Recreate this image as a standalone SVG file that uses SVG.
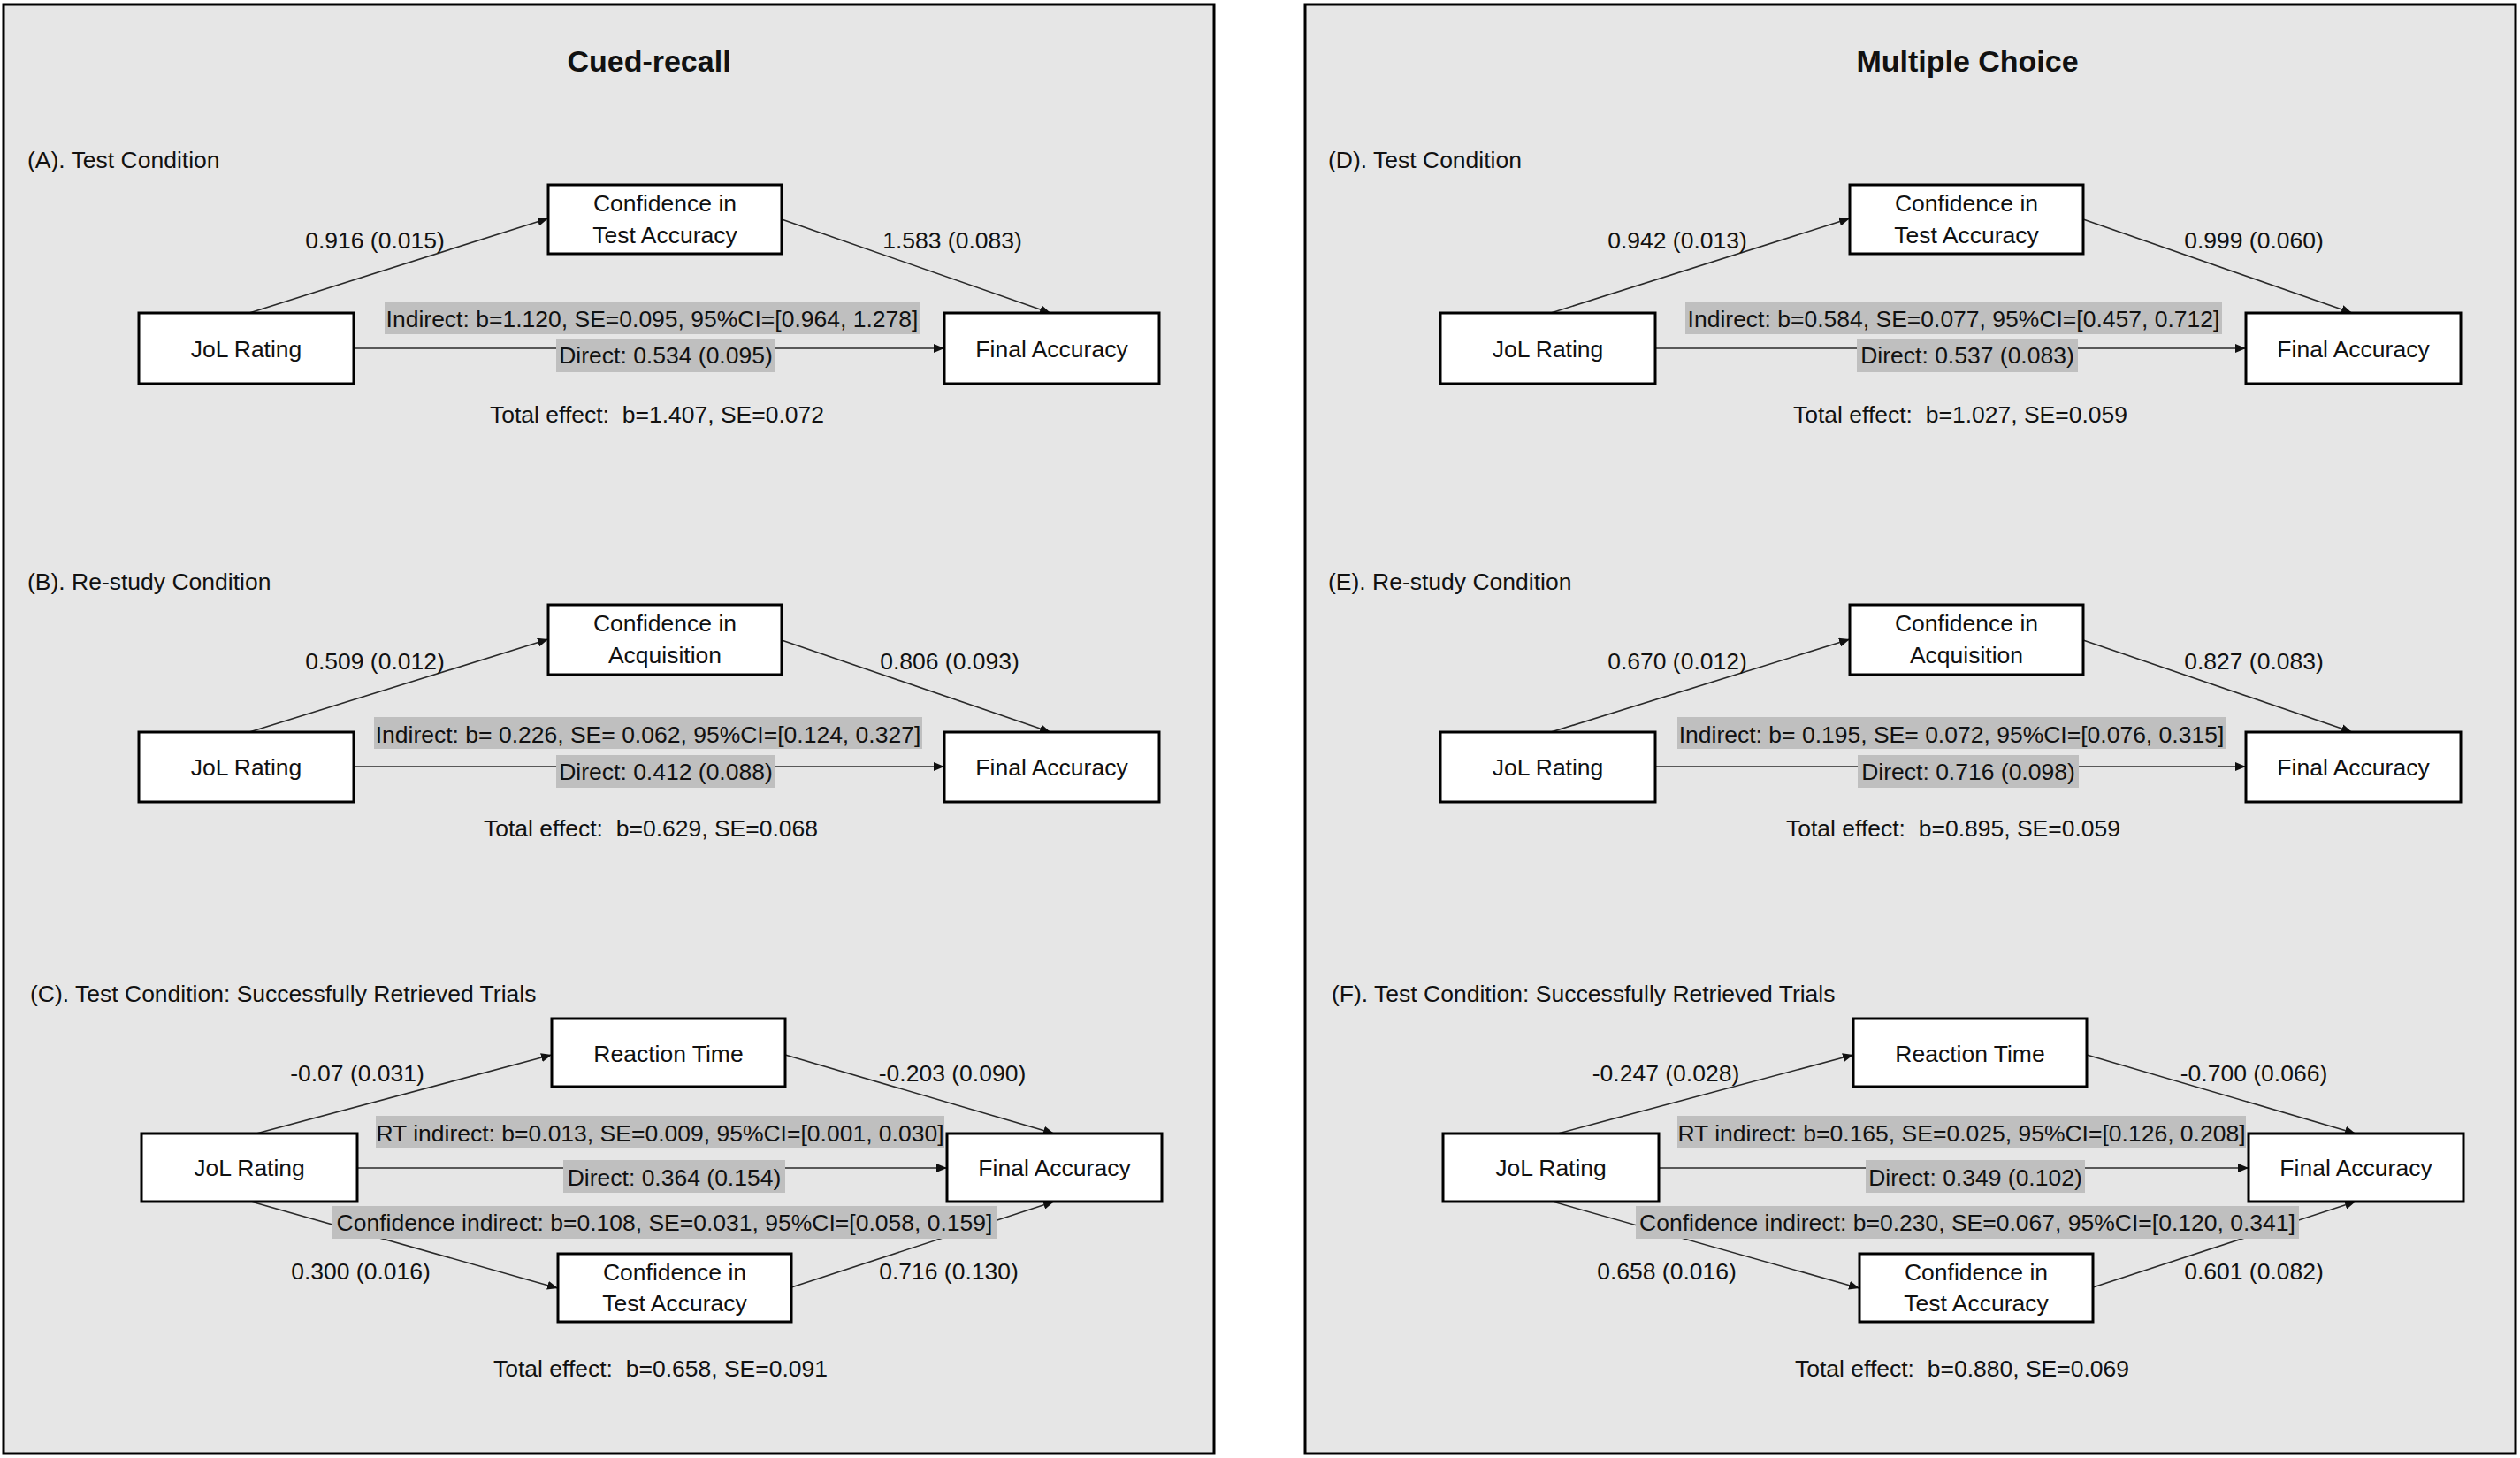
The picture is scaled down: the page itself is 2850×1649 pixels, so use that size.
<svg xmlns="http://www.w3.org/2000/svg" width="2850" height="1649" viewBox="0 0 2850 1649">
<style>
text{font-family:"Liberation Sans",Arial,sans-serif;font-size:26.5px;fill:#111;text-anchor:middle}
.title{font-size:34px;font-weight:bold}
.sec{text-anchor:start}
.panel{fill:#e6e6e6;stroke:#000;stroke-width:3}
.node rect{fill:#fff;stroke:#000;stroke-width:3}
.hl{fill:#bfbfbf}
.edge{stroke:#2a2a2a;stroke-width:1.6;fill:none;marker-end:url(#ah)}
</style>
<defs>
<marker id="ah" markerUnits="userSpaceOnUse" markerWidth="12" markerHeight="10" refX="12" refY="5" orient="auto">
<path d="M0,0 L12,5 L0,10 z" fill="#111"/>
</marker>
</defs>
<rect width="2850" height="1649" fill="#fff"/>

<!-- LEFT PANEL: Cued-recall -->
<g id="panel-left">
<rect class="panel" x="4" y="5" width="1369" height="1639"/>
<text class="title" x="734" y="81">Cued-recall</text>
<text class="sec" x="31" y="190">(A). Test Condition</text>
<text class="sec" x="31" y="667">(B). Re-study Condition</text>
<text class="sec" x="34" y="1133">(C). Test Condition: Successfully Retrieved Trials</text>
</g>

<g id="connectors-left">
<path class="edge" d="M282,354 L620,247"/>
<path class="edge" d="M884,248 L1188,354"/>
<path class="edge" d="M400,394 L1068,394"/>
<path class="edge" d="M282,828 L620,723"/>
<path class="edge" d="M884,724 L1188,828"/>
<path class="edge" d="M400,867 L1068,867"/>
<path class="edge" d="M290,1282 L624,1193"/>
<path class="edge" d="M888,1193 L1192,1282"/>
<path class="edge" d="M404,1321 L1071,1321"/>
<path class="edge" d="M284,1359 L631,1457"/>
<path class="edge" d="M895,1456 L1192,1359"/>
</g>

<g id="labels-left">
<text x="424" y="281">0.916 (0.015)</text>
<text x="1077" y="281">1.583 (0.083)</text>
<rect class="hl" x="435" y="342" width="605" height="36"/>
<text x="737.5" y="370">Indirect: b=1.120, SE=0.095, 95%CI=[0.964, 1.278]</text>
<rect class="hl" x="629" y="383" width="248" height="38"/>
<text x="753" y="411">Direct: 0.534 (0.095)</text>
<text x="743" y="478" xml:space="preserve">Total effect:  b=1.407, SE=0.072</text>

<text x="424" y="757">0.509 (0.012)</text>
<text x="1074" y="757">0.806 (0.093)</text>
<rect class="hl" x="423" y="811" width="620" height="36"/>
<text x="733" y="840">Indirect: b= 0.226, SE= 0.062, 95%CI=[0.124, 0.327]</text>
<rect class="hl" x="629" y="854" width="248" height="37"/>
<text x="753" y="882">Direct: 0.412 (0.088)</text>
<text x="736" y="946" xml:space="preserve">Total effect:  b=0.629, SE=0.068</text>

<text x="404" y="1223">-0.07 (0.031)</text>
<text x="1077" y="1223">-0.203 (0.090)</text>
<text x="408" y="1447">0.300 (0.016)</text>
<text x="1073" y="1447">0.716 (0.130)</text>
<rect class="hl" x="425" y="1262" width="643" height="36"/>
<text x="746.5" y="1291">RT indirect: b=0.013, SE=0.009, 95%CI=[0.001, 0.030]</text>
<rect class="hl" x="637" y="1312" width="251" height="37"/>
<text x="762.5" y="1341">Direct: 0.364 (0.154)</text>
<rect class="hl" x="376" y="1364" width="751" height="37"/>
<text x="751.5" y="1392">Confidence indirect: b=0.108, SE=0.031, 95%CI=[0.058, 0.159]</text>
<text x="747" y="1557" xml:space="preserve">Total effect:  b=0.658, SE=0.091</text>
</g>

<g id="A-conf" class="node"><rect x="620" y="209" width="264" height="78"/><text x="752" y="239">Confidence in</text><text x="752" y="275">Test Accuracy</text></g>
<g id="A-jol" class="node"><rect x="157" y="354" width="243" height="80"/><text x="278.5" y="404">JoL Rating</text></g>
<g id="A-final" class="node"><rect x="1068" y="354" width="243" height="80"/><text x="1189.5" y="404">Final Accuracy</text></g>

<g id="B-conf" class="node"><rect x="620" y="684" width="264" height="79"/><text x="752" y="714">Confidence in</text><text x="752" y="750">Acquisition</text></g>
<g id="B-jol" class="node"><rect x="157" y="828" width="243" height="79"/><text x="278.5" y="877">JoL Rating</text></g>
<g id="B-final" class="node"><rect x="1068" y="828" width="243" height="79"/><text x="1189.5" y="877">Final Accuracy</text></g>

<g id="C-rt" class="node"><rect x="624" y="1152" width="264" height="77"/><text x="756" y="1201">Reaction Time</text></g>
<g id="C-jol" class="node"><rect x="160" y="1282" width="244" height="77"/><text x="282" y="1330">JoL Rating</text></g>
<g id="C-final" class="node"><rect x="1071" y="1282" width="243" height="77"/><text x="1192.5" y="1330">Final Accuracy</text></g>
<g id="C-conf" class="node"><rect x="631" y="1418" width="264" height="77"/><text x="763" y="1448">Confidence in</text><text x="763" y="1483">Test Accuracy</text></g>

<!-- RIGHT PANEL: Multiple Choice -->
<g id="panel-right">
<rect class="panel" x="1476" y="5" width="1369" height="1639"/>
<text class="title" x="2225" y="81">Multiple Choice</text>
<text class="sec" x="1502" y="190">(D). Test Condition</text>
<text class="sec" x="1502" y="667">(E). Re-study Condition</text>
<text class="sec" x="1506" y="1133">(F). Test Condition: Successfully Retrieved Trials</text>
</g>

<g transform="translate(1472,0)">
<g id="connectors-right">
<path class="edge" d="M282,354 L620,247"/>
<path class="edge" d="M884,248 L1188,354"/>
<path class="edge" d="M400,394 L1068,394"/>
<path class="edge" d="M282,828 L620,723"/>
<path class="edge" d="M884,724 L1188,828"/>
<path class="edge" d="M400,867 L1068,867"/>
<path class="edge" d="M290,1282 L624,1193"/>
<path class="edge" d="M888,1193 L1192,1282"/>
<path class="edge" d="M404,1321 L1071,1321"/>
<path class="edge" d="M284,1359 L631,1457"/>
<path class="edge" d="M895,1456 L1192,1359"/>
</g>

<g id="labels-right">
<text x="425" y="281">0.942 (0.013)</text>
<text x="1077" y="281">0.999 (0.060)</text>
<rect class="hl" x="434" y="342" width="607" height="36"/>
<text x="737.5" y="370">Indirect: b=0.584, SE=0.077, 95%CI=[0.457, 0.712]</text>
<rect class="hl" x="628" y="383" width="250" height="38"/>
<text x="753" y="411">Direct: 0.537 (0.083)</text>
<text x="745" y="478" xml:space="preserve">Total effect:  b=1.027, SE=0.059</text>

<text x="425" y="757">0.670 (0.012)</text>
<text x="1077" y="757">0.827 (0.083)</text>
<rect class="hl" x="425" y="811" width="620" height="36"/>
<text x="735" y="840">Indirect: b= 0.195, SE= 0.072, 95%CI=[0.076, 0.315]</text>
<rect class="hl" x="629" y="854" width="250" height="37"/>
<text x="754" y="882">Direct: 0.716 (0.098)</text>
<text x="737" y="946" xml:space="preserve">Total effect:  b=0.895, SE=0.059</text>

<text x="412" y="1223">-0.247 (0.028)</text>
<text x="1077" y="1223">-0.700 (0.066)</text>
<text x="413" y="1447">0.658 (0.016)</text>
<text x="1077" y="1447">0.601 (0.082)</text>
<rect class="hl" x="425" y="1262" width="643" height="36"/>
<text x="746.5" y="1291">RT indirect: b=0.165, SE=0.025, 95%CI=[0.126, 0.208]</text>
<rect class="hl" x="638" y="1312" width="248" height="37"/>
<text x="762" y="1341">Direct: 0.349 (0.102)</text>
<rect class="hl" x="378" y="1364" width="750" height="37"/>
<text x="753" y="1392">Confidence indirect: b=0.230, SE=0.067, 95%CI=[0.120, 0.341]</text>
<text x="747" y="1557" xml:space="preserve">Total effect:  b=0.880, SE=0.069</text>
</g>

<g id="D-conf" class="node"><rect x="620" y="209" width="264" height="78"/><text x="752" y="239">Confidence in</text><text x="752" y="275">Test Accuracy</text></g>
<g id="D-jol" class="node"><rect x="157" y="354" width="243" height="80"/><text x="278.5" y="404">JoL Rating</text></g>
<g id="D-final" class="node"><rect x="1068" y="354" width="243" height="80"/><text x="1189.5" y="404">Final Accuracy</text></g>

<g id="E-conf" class="node"><rect x="620" y="684" width="264" height="79"/><text x="752" y="714">Confidence in</text><text x="752" y="750">Acquisition</text></g>
<g id="E-jol" class="node"><rect x="157" y="828" width="243" height="79"/><text x="278.5" y="877">JoL Rating</text></g>
<g id="E-final" class="node"><rect x="1068" y="828" width="243" height="79"/><text x="1189.5" y="877">Final Accuracy</text></g>

<g id="F-rt" class="node"><rect x="624" y="1152" width="264" height="77"/><text x="756" y="1201">Reaction Time</text></g>
<g id="F-jol" class="node"><rect x="160" y="1282" width="244" height="77"/><text x="282" y="1330">JoL Rating</text></g>
<g id="F-final" class="node"><rect x="1071" y="1282" width="243" height="77"/><text x="1192.5" y="1330">Final Accuracy</text></g>
<g id="F-conf" class="node"><rect x="631" y="1418" width="264" height="77"/><text x="763" y="1448">Confidence in</text><text x="763" y="1483">Test Accuracy</text></g>
</g>
</svg>
